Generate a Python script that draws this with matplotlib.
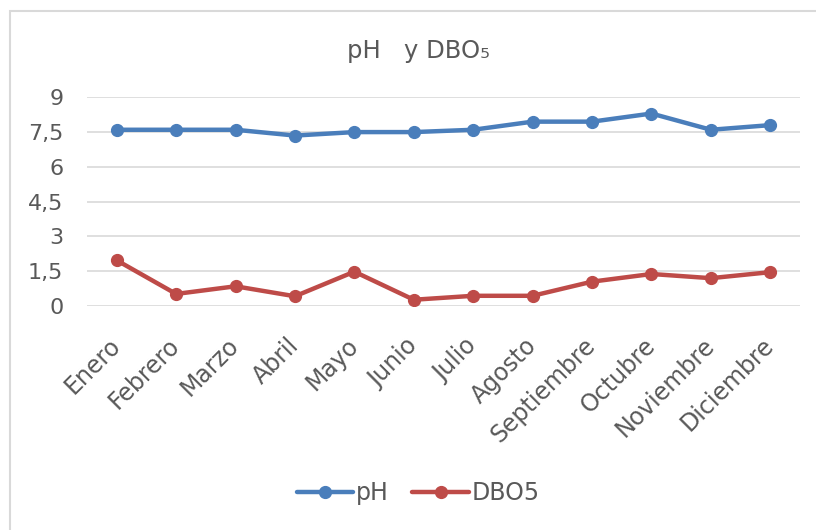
import matplotlib
matplotlib.use("Agg")
import matplotlib.pyplot as plt
from matplotlib.patches import Rectangle

months = ["Enero", "Febrero", "Marzo", "Abril", "Mayo", "Junio", "Julio",
          "Agosto", "Septiembre", "Octubre", "Noviembre", "Diciembre"]
ph = [7.6, 7.6, 7.6, 7.35, 7.5, 7.5, 7.6, 7.95, 7.95, 8.3, 7.6, 7.8]
dbo5 = [1.97, 0.52, 0.85, 0.42, 1.48, 0.27, 0.44, 0.44, 1.05, 1.38, 1.2, 1.46]
yticks = [0, 1.5, 3, 4.5, 6, 7.5, 9]
ytick_labels = ["0", "1,5", "3", "4,5", "6", "7,5", "9"]

W, H = 816, 530
fig = plt.figure(figsize=(W / 100, H / 100), dpi=100)
fig.patch.set_facecolor("white")

# chart border
fig.patches.append(Rectangle((10 / W, -0.1), 1.2, 1.1 - 11 / H,
                             transform=fig.transFigure, fill=False,
                             edgecolor="#d9d9d9", linewidth=1.5))

ax = fig.add_axes([87 / W, (H - 306) / H, (800 - 87) / W, (306 - 97.3) / H])
x = list(range(len(months)))
ax.plot(x, ph, color="#4a7ebb", linewidth=3.2, marker="o", markersize=8.5, label="pH",
        solid_capstyle="round")
ax.plot(x, dbo5, color="#be4b48", linewidth=3.2, marker="o", markersize=8.5, label="DBO5",
        solid_capstyle="round")

ax.set_xlim(-0.5, len(months) - 0.5)
ax.set_ylim(0, 9)
ax.set_yticks(yticks)
ax.set_yticklabels(ytick_labels)
ax.set_xticks(x)
ax.set_xticklabels(months, rotation=45, ha="right", va="center", rotation_mode="anchor")
ax.grid(axis="y", color="#d9d9d9", linewidth=1.2)
ax.set_axisbelow(True)
for s in ax.spines.values():
    s.set_visible(False)
ax.tick_params(axis="both", length=0, colors="#595959")
ax.tick_params(axis="y", pad=17, labelsize=16)
ax.tick_params(axis="x", pad=26, labelsize=17)

fig.text(418 / W, 1 - 51 / H, "pH   y DBO₅", ha="center", va="center",
         fontsize=17.5, color="#595959")

leg = fig.legend(loc="center", bbox_to_anchor=(418 / W, 1 - 493 / H), ncol=2,
                 frameon=False, fontsize=17, handlelength=2.4, columnspacing=1.0,
                 handletextpad=0.1)
for t in leg.get_texts():
    t.set_color("#595959")

fig.savefig("out.png", dpi=100)
